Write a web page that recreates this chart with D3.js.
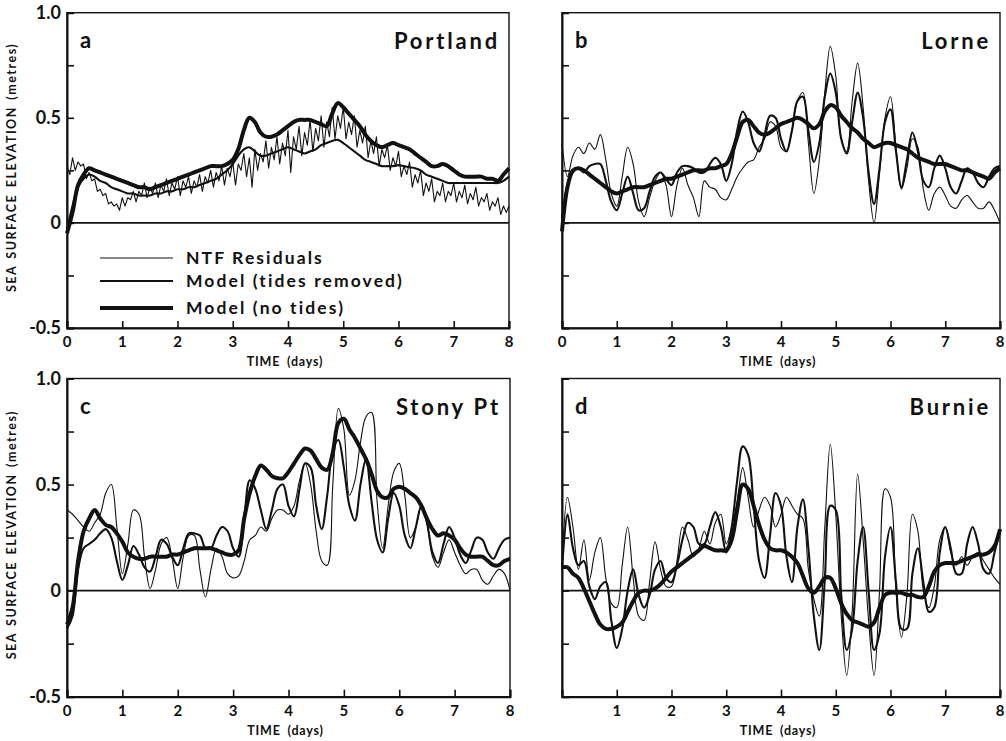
<!DOCTYPE html>
<html><head><meta charset="utf-8">
<script src="https://cdn.jsdelivr.net/npm/d3@7"></script>
<style>body{margin:0;background:#fff} svg{display:block}</style>
</head><body>
<svg id="chart" width="1006" height="741"></svg>
<script>
// ---------- DATA ----------
const dayTicks = [0,1,2,3,4,5,6,7,8];
const elevTicks = [-0.5,-0.25,0,0.25,0.5,0.75,1.0];
const elevLabels = [{v:1.0,t:"1.0"},{v:0.5,t:"0.5"},{v:0,t:"0"},{v:-0.5,t:"-0.5"}];
const seriesNames = ["NTF Residuals","Model (tides removed)","Model (no tides)"];
const stations = ["Portland","Lorne","Stony Pt","Burnie"];
const panelLetters = ["a","b","c","d"];
const xTitle = "TIME (days)";
const yTitle = "SEA SURFACE ELEVATION (metres)";

// sampled every 0.05 day
const portlandNTF = [
.27,.23,.31,.25,.29,.27,.28,.21,.24,.20,.21,.15,.16,.13,.14,.09,.10,.08,.09,.06,
.12,.08,.12,.11,.15,.10,.15,.13,.19,.12,.17,.14,.19,.12,.18,.15,.21,.13,.19,.16,
.22,.13,.20,.17,.22,.14,.20,.17,.23,.15,.22,.19,.25,.17,.24,.20,.27,.18,.26,.22,
.29,.18,.28,.25,.33,.22,.31,.17,.35,.25,.33,.29,.39,.26,.36,.30,.41,.28,.38,.32,
.44,.24,.41,.35,.46,.32,.43,.37,.49,.34,.45,.39,.51,.36,.48,.41,.55,.40,.51,.45,
.55,.40,.48,.42,.51,.36,.44,.38,.46,.31,.39,.33,.41,.27,.35,.31,.37,.25,.31,.27,
.34,.22,.27,.23,.29,.17,.23,.19,.25,.13,.19,.15,.21,.10,.15,.13,.19,.10,.15,.13,
.19,.10,.15,.12,.18,.09,.14,.11,.17,.08,.12,.10,.14,.06,.10,.08,.12,.04,.08,.05,
.08];
// sampled every 0.1 day
const portlandTidesRemoved = [
-.03,.08,.17,.21,.23,.22,.20,.19,.17,.16,.15,.14,.14,.13,.13,.13,.14,.14,.15,.15,
.16,.16,.17,.17,.18,.19,.20,.21,.23,.25,.28,.32,.35,.36,.34,.32,.32,.33,.34,.35,
.36,.35,.34,.33,.34,.35,.37,.38,.39,.395,.38,.36,.34,.32,.30,.29,.28,.27,.27,.27,
.275,.27,.265,.26,.25,.23,.22,.21,.20,.19,.19,.19,.19,.19,.19,.19,.19,.19,.19,.20,.22];
const portlandNoTides = [
-.05,.05,.18,.23,.26,.25,.24,.23,.22,.21,.20,.19,.18,.17,.17,.16,.17,.18,.19,.20,
.21,.22,.23,.24,.25,.26,.27,.27,.27,.28,.30,.35,.44,.50,.48,.43,.41,.41,.42,.44,
.46,.48,.49,.49,.49,.48,.47,.46,.52,.57,.55,.52,.49,.46,.42,.39,.37,.36,.37,.38,
.37,.36,.35,.33,.31,.29,.27,.27,.28,.27,.25,.23,.22,.22,.22,.22,.21,.21,.20,.23,.26];

const lorneNTF = [
.38,.22,.32,.36,.33,.38,.35,.42,.30,.14,.08,.22,.36,.28,.10,.03,.12,.20,.24,.18,
.03,.18,.26,.18,.12,.03,.20,.17,.16,.12,.11,.16,.22,.26,.29,.30,.36,.40,.48,.46,
.36,.34,.44,.58,.62,.38,.14,.30,.62,.84,.70,.40,.34,.58,.76,.55,.20,.00,.24,.50,
.60,.36,.16,.26,.40,.36,.16,.06,.14,.17,.13,.08,.07,.11,.13,.10,.07,.07,.10,.06,.00];
const lorneTidesRemoved = [
.00,.18,.24,.26,.24,.27,.28,.28,.20,.10,.06,.14,.22,.14,.06,.07,.15,.22,.24,.21,
.18,.24,.27,.27,.26,.24,.24,.28,.31,.28,.20,.28,.44,.53,.48,.38,.34,.42,.51,.50,
.40,.34,.44,.58,.60,.44,.29,.38,.60,.71,.62,.40,.33,.48,.62,.50,.24,.09,.26,.48,
.54,.34,.17,.30,.43,.34,.20,.17,.26,.32,.26,.17,.14,.20,.26,.24,.19,.17,.22,.26,.27];
const lorneNoTides = [
-.04,.17,.25,.26,.25,.23,.21,.19,.17,.15,.14,.15,.16,.17,.17,.17,.18,.19,.20,.21,
.21,.22,.23,.24,.25,.25,.25,.26,.26,.27,.28,.33,.41,.48,.49,.46,.43,.42,.43,.45,
.47,.48,.49,.50,.49,.47,.45,.47,.53,.56,.55,.51,.48,.45,.43,.40,.38,.36,.37,.38,
.38,.37,.36,.35,.33,.31,.30,.29,.28,.28,.28,.27,.26,.25,.25,.24,.23,.22,.21,.24,.26];

const stonyNTF = [
.38,.36,.33,.30,.28,.32,.36,.46,.50,.30,.08,.22,.38,.36,.16,.01,.10,.22,.25,.15,
.01,.16,.26,.26,.10,-.03,.10,.20,.16,.08,.06,.07,.14,.24,.26,.30,.28,.34,.38,.38,
.36,.40,.52,.60,.50,.28,.14,.12,.50,.86,.76,.45,.52,.70,.82,.84,.42,.20,.40,.56,
.60,.45,.25,.30,.40,.32,.16,.11,.18,.24,.18,.12,.08,.10,.10,.05,.03,.07,.10,.08,.00];
const stonyTidesRemoved = [
-.18,-.12,.10,.20,.22,.24,.27,.29,.25,.14,.05,.12,.21,.17,.11,.09,.16,.24,.22,.16,
.12,.20,.27,.27,.26,.20,.20,.26,.30,.28,.20,.16,.34,.52,.48,.38,.29,.38,.48,.50,
.40,.35,.48,.60,.58,.40,.29,.45,.66,.71,.58,.40,.33,.50,.62,.42,.24,.18,.34,.46,
.40,.26,.20,.30,.40,.32,.18,.13,.22,.30,.25,.17,.13,.19,.25,.24,.18,.15,.20,.24,.25];
const stonyNoTides = [
-.16,-.08,.14,.28,.34,.38,.34,.31,.30,.27,.23,.18,.16,.15,.15,.16,.16,.16,.16,.17,
.17,.18,.19,.20,.20,.20,.20,.19,.18,.17,.17,.19,.34,.46,.54,.59,.57,.54,.53,.53,
.56,.60,.64,.67,.66,.62,.58,.57,.65,.79,.81,.76,.72,.67,.62,.55,.47,.44,.44,.48,
.49,.48,.46,.44,.40,.34,.29,.26,.27,.26,.24,.20,.17,.16,.16,.16,.14,.12,.12,.14,.15];

const burnieNTF = [
.12,.44,.30,.10,.24,.05,.18,.25,.06,-.06,-.08,.12,.30,.06,-.12,-.14,.04,.23,.10,.02,
.02,.14,.30,.24,.16,.20,.28,.22,.32,.36,.22,.30,.42,.58,.44,.30,.38,.44,.40,.30,
.36,.44,.40,.36,.34,.10,-.04,-.12,.30,.69,.36,-.12,-.40,-.10,.55,.24,-.14,-.40,.00,.48,
.44,.00,-.22,-.02,.36,.28,.00,-.08,.02,.24,.30,.18,.12,.16,.12,.16,.18,.14,.10,.06,.03];
const burnieTidesRemoved = [
.10,.36,.20,.12,.14,.02,-.04,.02,.04,-.14,-.27,-.18,.00,.10,-.02,-.08,-.02,.10,.14,.06,
.04,.12,.24,.32,.30,.22,.22,.30,.37,.30,.18,.30,.52,.68,.64,.40,.14,.06,.26,.46,
.40,.16,.04,.30,.43,.20,-.12,-.28,.05,.40,.38,-.02,-.28,-.18,.14,.30,.00,-.28,-.20,.16,
.30,.04,-.18,-.18,.08,.20,.04,-.10,-.08,.18,.30,.20,.08,.08,.22,.30,.22,.10,.08,.18,.28];
const burnieNoTides = [
.11,.11,.08,.06,.01,-.05,-.11,-.16,-.18,-.18,-.17,-.15,-.10,-.05,-.01,.00,.00,.01,.03,.06,
.09,.11,.13,.15,.17,.19,.21,.20,.19,.19,.19,.24,.38,.50,.48,.40,.31,.24,.20,.19,
.19,.18,.16,.13,.07,.01,-.01,.02,.06,.06,.01,-.06,-.11,-.14,-.15,-.16,-.17,-.15,-.08,-.02,
-.01,-.01,-.01,-.02,-.02,-.03,-.03,.02,.09,.12,.13,.13,.13,.14,.15,.16,.17,.17,.18,.21,.29];

// ---------- LAYOUT ----------
const panels = [
  {x0:67, x1:509, yTop:12.7, yBot:328, ntf:portlandNTF, ntfStep:0.05, tr:portlandTidesRemoved, nt:portlandNoTides, yLabels:true, firstX:true, legend:true, ntfLinear:true},
  {x0:562, x1:1000, yTop:12.7, yBot:328, ntf:lorneNTF, ntfStep:0.1, tr:lorneTidesRemoved, nt:lorneNoTides, yLabels:false, firstX:true},
  {x0:67, x1:510, yTop:378.5, yBot:696.7, ntf:stonyNTF, ntfStep:0.1, tr:stonyTidesRemoved, nt:stonyNoTides, yLabels:true, firstX:true},
  {x0:562, x1:1000, yTop:378.5, yBot:696.7, ntf:burnieNTF, ntfStep:0.1, tr:burnieTidesRemoved, nt:burnieNoTides, yLabels:false, firstX:false}
];
const widths = [1.1, 2.1, 4];
const FONT = "Lato, 'DejaVu Sans', sans-serif";

const svg = d3.select("#chart");

panels.forEach((p, i) => {
  const x = d3.scaleLinear().domain([0, 8]).range([p.x0, p.x1]);
  const y = d3.scaleLinear().domain([-0.5, 1.0]).range([p.yBot, p.yTop]);
  const g = svg.append("g");

  // frame
  g.append("rect").attr("x", p.x0).attr("y", p.yTop)
    .attr("width", p.x1 - p.x0).attr("height", p.yBot - p.yTop)
    .attr("fill", "none").attr("stroke", "#111").attr("stroke-width", 1.4);

  // y axis ticks (inward)
  const yAxis = d3.axisRight(y).tickValues(elevTicks).tickSize(7).tickFormat("");
  g.append("g").attr("transform", `translate(${p.x0},0)`).call(yAxis)
    .call(s => s.select(".domain").attr("stroke-width", 2).attr("stroke", "#111"))
    .call(s => s.selectAll(".tick line").attr("stroke-width", 1.6).attr("stroke", "#111"));

  // x axis ticks (inward)
  const xAxis = d3.axisTop(x).tickValues(dayTicks).tickSize(7).tickFormat("");
  g.append("g").attr("transform", `translate(0,${p.yBot})`).call(xAxis)
    .call(s => s.select(".domain").attr("stroke-width", 2).attr("stroke", "#111"))
    .call(s => s.selectAll(".tick line").attr("stroke-width", 1.6).attr("stroke", "#111"));

  // x tick labels
  g.selectAll(".xl").data(dayTicks.filter(d => p.firstX || d !== 0)).enter().append("text")
    .attr("x", d => x(d)).attr("y", p.yBot + 19)
    .attr("text-anchor", "middle").attr("font-family", FONT).attr("font-weight", 700)
    .attr("font-size", 15).attr("fill", "#111").text(d => d);

  g.append("text").attr("x", (p.x0 + p.x1) / 2 - 3).attr("y", p.yBot + 38)
    .attr("text-anchor", "middle").attr("font-family", FONT).attr("font-weight", 700)
    .attr("font-size", 12.5).attr("letter-spacing", 0.8).attr("word-spacing", 3)
    .attr("fill", "#111").text(xTitle);

  if (p.yLabels) {
    g.selectAll(".yl").data(elevLabels).enter().append("text")
      .attr("x", p.x0 - 6).attr("y", d => y(d.v) + 6)
      .attr("text-anchor", "end").attr("font-family", FONT).attr("font-weight", 700)
      .attr("font-size", 18).attr("fill", "#111").text(d => d.t);
    g.append("text")
      .attr("transform", `translate(16,${(p.yTop + p.yBot) / 2 - 3}) rotate(-90)`)
      .attr("text-anchor", "middle").attr("font-family", FONT).attr("font-weight", 700)
      .attr("font-size", 12.5).attr("letter-spacing", 1.5).attr("word-spacing", 2)
      .attr("fill", "#111").text(yTitle);
  }

  // zero line
  g.append("line").attr("x1", p.x0).attr("x2", p.x1).attr("y1", y(0)).attr("y2", y(0))
    .attr("stroke", "#111").attr("stroke-width", 1.6);

  // series
  const mk = (arr, step, curve) => d3.line()
    .x((d, k) => x(k * step)).y(d => y(d)).curve(curve)(arr);
  const smooth = d3.curveCatmullRom.alpha(0.5);
  g.append("path").attr("d", mk(p.ntf, p.ntfStep, p.ntfLinear ? d3.curveLinear : smooth))
    .attr("fill", "none").attr("stroke", "#111").attr("stroke-width", widths[0]).attr("stroke-linejoin", "round");
  g.append("path").attr("d", mk(p.tr, 0.1, smooth))
    .attr("fill", "none").attr("stroke", "#111").attr("stroke-width", widths[1]).attr("stroke-linejoin", "round");
  g.append("path").attr("d", mk(p.nt, 0.1, smooth))
    .attr("fill", "none").attr("stroke", "#111").attr("stroke-width", widths[2]).attr("stroke-linejoin", "round");

  // panel letter and station name
  g.append("text").attr("x", p.x0 + 13).attr("y", p.yTop + 35)
    .attr("font-family", FONT).attr("font-weight", 700).attr("font-size", 22).attr("fill", "#111")
    .text(panelLetters[i]);
  g.append("text").attr("x", p.x1 - 9).attr("y", p.yTop + 36)
    .attr("text-anchor", "end").attr("font-family", FONT).attr("font-weight", 700)
    .attr("font-size", 22).attr("letter-spacing", 2.8).attr("fill", "#111")
    .text(stations[i]);

  if (p.legend) {
    const ly = [258, 281, 308];
    seriesNames.forEach((name, k) => {
      g.append("line").attr("x1", 100).attr("x2", 173).attr("y1", ly[k]).attr("y2", ly[k])
        .attr("stroke", "#111").attr("stroke-width", widths[k]);
      g.append("text").attr("x", 186).attr("y", ly[k] + 6)
        .attr("font-family", FONT).attr("font-weight", 700).attr("font-size", 17.5)
        .attr("letter-spacing", 2.1).attr("fill", "#111").text(name);
    });
  }
});
</script>
</body></html>
